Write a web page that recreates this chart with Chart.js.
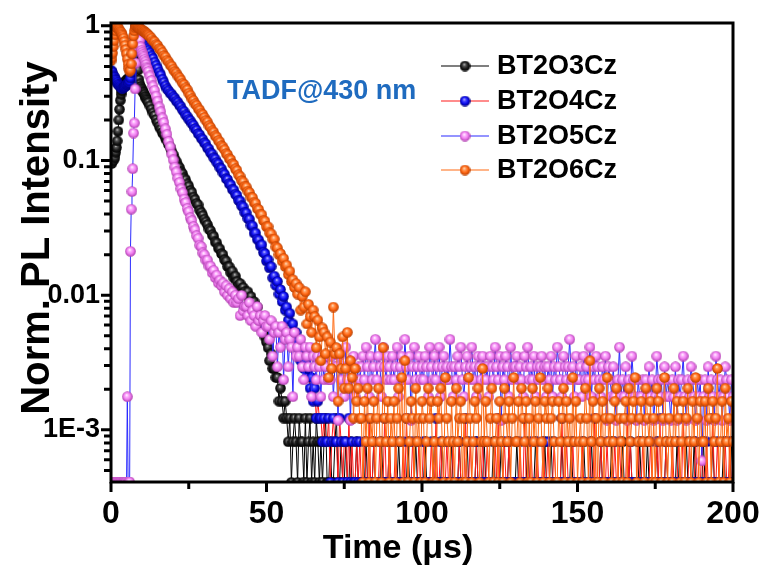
<!DOCTYPE html>
<html><head><meta charset="utf-8">
<script src="https://cdn.jsdelivr.net/npm/chart.js@4.4.0/dist/chart.umd.min.js"></script>
<style>html,body{margin:0;padding:0;background:#fff}canvas{display:block}</style>
</head><body>
<canvas id="c" width="766" height="568"></canvas>
<script>
const SERIES_NAMES = ['BT2O3Cz', 'BT2O4Cz', 'BT2O5Cz', 'BT2O6Cz'];
const X_TICKS = [0, 50, 100, 150, 200];
const X_MINOR_TICKS = [25, 75, 125, 175];
const Y_TICKS = [0.001, 0.01, 0.1, 1];
const Y_TICK_LABELS = ['1E-3', '0.01', '0.1', '1'];
const X_TITLE = 'Time (\u03bcs)';
const Y_TITLE = 'Norm. PL Intensity';
const NOTE = 'TADF@430 nm';
const X_MIN = 0, X_MAX = 200, Y_MIN = 4.1e-4, Y_MAX = 1.05;

// time channels (µs): 0–12 every 0.25, then every 0.5 up to 200
const EARLY_STEP = 0.25, EARLY_END = 12, LATE_STEP = 0.5, T_END = 200;
const TIME = [];
for (let i = 0; i * EARLY_STEP <= EARLY_END; i++) TIME.push(i * EARLY_STEP);
for (let t = EARLY_END + LATE_STEP; t <= T_END + 1e-9; t += LATE_STEP) TIME.push(t);

// photon counts per channel (normalised to each series' peak)
const COUNTS_BT2O3CZ = [
  245,233,257,245,270,257,282,306, 343,404,490,588,686,760,808,858,
  894,919,943,955,968,980,992,1005, 1017,1029,1054,1103,1225,1470,1838,2254,
  2450,2083,1519,1152,980,907,870,845, 821,796,779,760,735,715,698,679, 662,
  625,590,555,530,495,468,440,420,396,382,360,345,322,308,288,272,
  252,242,226,218,203,196,182,176,164,158,147,142,131,126,118,115,105,101,96,90,
  86,82,76,74,69,67,61,60,55,54,50,49,45,44,40,40,36,37,33,34,
  31,29,30,27,28,26,25,26,23,24,21,22,19,20,17,16,15,13,12,11,
  10,8,9,7,7,6,6,4,5,4,3,4,3,2,3,1,2,3,2,1,
  3,2,2,0,3,1,2,3,1,2,1,3,2,1,2,0,2,3,1,1,
  2,0,1,2,3,1,0,2,1,1,2,0,1,2,1,0,1,2,0,1,
  1,0,1,2,0,1,1,0,2,1,0,1,1,2,0,1,0,1,2,1,
  0,1,1,0,2,1,0,1,0,1,2,0,1,1,0,2,1,0,1,0,
  1,2,0,1,0,1,1,2,0,1,0,1,2,1,0,1,1,0,2,1,
  0,1,0,2,1,1,0,1,2,0,1,0,1,1,2,0,1,0,1,2,
  1,0,1,1,0,2,1,0,1,0,2,1,1,0,1,2,0,1,0,1,
  2,1,0,1,1,0,1,2,0,1,1,0,2,1,0,1,0,1,2,0,
  1,0,2,1,0,1,1,0,1,2,0,1,0,1,1,2,0,1,1,0,
  0,1,1,2,0,1,0,1,2,1,0,1,1,0,2,1,0,1,0,1,
  1,2,0,1,1,0,1,0,2,1,1,0,1,2,0,1,1,0,1,2,
  0,1,0,1,2,1,0,1,1,0,2,1,0,1,0,1,2,1,0,1,
  1,0,1,2,0,1,1,0,1,2,1,0,0,1,2,1,0,1,1,0,
  2,0,1,1,0,1,2,1,0,1,0,1,1,2,0,1,0,1,2,1
];
const COUNTS_BT2O4CZ = [
  1150,1125,1100,1055,1030,1005,980,955, 930,905,895,880,870,855,845,845,
  855,860,870,880,895,905,920,930, 955,1005,1100,1275,1520,1790,2030,2230,
  2350,2430,2450,2420,2370,2300,2230,2160, 2090,2010,1950,1890,1830,1770,1715,1665, 1615,
  1550,1465,1405,1318,1250,1180,1110,1058,985,935,878,836,810,778,761,730,
  712,680,664,634,615,582,566,535,522,497,485,462,449,424,412,389,380,360,352,333,
  325,305,298,280,274,257,252,238,232,217,213,199,194,180,177,165,162,150,148,138,
  135,124,123,113,111,101,100,91,90,81,80,71,71,64,63,57,58,51,50,44,
  45,39,40,33,34,29,31,25,27,22,24,19,20,16,18,13,15,12,13,10,
  11,8,10,7,8,6,7,5,6,4,5,3,4,3,3,2,3,2,2,3,
  1,2,3,2,2,1,3,2,1,2,2,0,3,1,2,1,0,2,1,2,
  1,0,2,1,1,3,0,1,2,0,1,1,2,0,1,3,1,0,2,1,
  0,1,2,1,0,1,1,2,0,3,1,0,1,2,1,0,1,2,1,0,
  2,1,0,1,1,2,0,1,3,1,0,2,1,1,0,2,1,0,1,2,
  1,0,1,2,0,1,1,3,0,1,2,1,0,1,2,0,1,1,2,0,
  1,2,0,1,1,0,2,1,3,0,1,1,2,0,1,2,1,0,1,1,
  0,1,2,1,0,3,1,1,0,2,1,0,1,2,1,1,0,2,1,0,
  2,1,0,1,2,1,0,1,1,3,0,1,2,1,0,1,2,0,1,1,
  1,0,2,1,1,0,1,2,0,1,3,1,0,1,2,1,0,1,2,0,
  0,1,1,2,0,1,2,1,0,1,1,3,0,2,1,0,1,1,2,1,
  1,2,0,1,0,1,2,1,1,0,2,1,3,0,1,1,2,0,1,0,
  2,0,1,1,2,0,1,3,1,0,1,2,1,0,1,2,0,1,1,2,
  0,1,2,0,1,1,3,0,1,2,1,0,1,1,2,0,1,2,1,0
];
const COUNTS_BT2O5CZ = [
  0,0,0,0,0,0,0,0, 0,0,0,0,0,0,0,0,
  0,0,0,0,0,3,0,0, 0,36,74,100,148,272,323,578,
  900,1190,1445,1700,1530,1330,1190,1120, 1080,1040,1000,960,920,880,840,815, 780,
  722,668,608,565,512,470,425,392,352,326,292,266,236,215,190,172,
  152,140,126,117,105,98,88,83,75,71,64,61,55,52,47,45,40,39,35,34,
  31,31,28,28,25,26,23,24,21,22,20,21,18,20,17,19,16,18,15,17,
  15,16,12,17,13,14,14,12,15,11,13,12,10,14,11,12,9,11,12,10,
  10,8,11,6,9,10,5,9,7,10,4,8,9,5,8,7,3,9,6,7,
  6,8,5,4,7,6,5,7,3,6,5,4,6,5,3,6,4,5,6,4,
  4,6,3,5,5,2,6,4,5,3,7,4,5,2,5,6,3,4,5,4,
  5,6,4,7,5,3,6,4,5,8,4,6,5,3,7,5,4,6,5,4,
  6,4,5,7,3,5,6,4,8,5,4,6,2,5,7,4,5,6,4,5,
  4,6,5,3,7,5,4,6,4,5,7,3,5,6,4,5,4,8,5,3,
  5,4,6,5,7,4,3,5,6,4,5,7,4,5,3,6,5,4,6,5,
  4,5,3,6,5,4,7,5,4,6,2,5,4,6,5,3,7,4,5,5,
  6,4,5,4,3,6,5,7,4,5,4,6,3,5,4,5,6,4,5,3,
  5,4,6,3,5,4,7,5,4,3,6,5,4,5,8,4,5,3,6,4,
  4,5,3,6,4,5,4,7,3,5,4,6,5,4,3,5,4,6,2,5,
  4,3,5,3,2,4,7,3,4,3,5,2,4,3,6,4,3,2,4,3,
  3,4,2,4,3,5,3,4,2,3,6,4,3,4,2,5,3,4,3,2,
  4,3,5,2,4,3,4,6,3,2,4,3,5,4,3,2,4,3,4,1,
  3,4,2,5,3,4,3,2,6,4,3,4,2,3,5,4,3,2,4,3
];
const COUNTS_BT2O6CZ = [
  1350,1420,1540,1720,1900,2100,2250,2380, 2430,2370,2330,2280,2230,2180,2130,2060,
  1990,1880,1760,1640,1520,1390,1270,1180, 1130,1150,1280,1520,1800,2060,2250,2370,
  2450,2430,2410,2380,2360,2340,2320,2300, 2280,2260,2240,2220,2190,2170,2140,2120, 2090,
  2045,1985,1900,1870,1790,1750,1660,1625,1560,1480,1440,1365,1325,1260,1230,1170,
  1125,1095,1040,1010,970,922,898,850,825,775,748,705,684,648,630,598,580,552,538,512,
  488,474,445,432,408,398,375,366,346,336,316,309,295,277,270,254,249,233,228,213,
  207,192,187,174,170,158,156,145,142,131,130,120,118,108,106,98,97,88,87,79,
  79,71,70,64,64,56,55,49,50,44,46,40,41,35,37,31,32,28,30,25,
  28,19,24,20,26,15,21,17,13,19,17,10,16,12,8,14,13,9,12,6,
  11,7,20,9,10,4,9,7,12,5,7,13,5,8,6,3,7,4,5,3,
  3,1,4,2,5,1,3,2,4,0,3,5,2,1,10,3,2,4,1,3,
  2,4,1,3,5,2,6,1,8,3,0,2,4,3,1,5,2,3,1,4,
  3,1,2,5,3,4,0,2,1,4,3,5,2,1,6,3,2,1,4,2,
  1,5,2,3,4,1,3,0,2,6,3,1,2,4,3,5,1,2,7,2,
  4,2,1,3,5,0,2,3,1,4,2,1,5,3,2,4,1,3,6,2,
  2,4,1,5,3,2,4,1,3,0,5,2,4,1,3,6,2,1,4,3,
  5,1,3,4,2,1,0,4,2,3,5,1,4,2,3,1,6,2,4,1,
  2,3,1,2,5,3,1,8,2,4,1,3,0,5,2,4,1,3,6,2,
  3,1,2,4,5,1,3,2,0,3,4,1,5,2,3,4,6,1,2,3,
  4,2,1,5,3,2,4,0,3,1,5,4,2,1,3,6,2,1,3,2,
  1,5,2,4,3,1,2,4,0,3,5,2,1,4,2,6,3,1,4,2,
  2,4,1,5,3,1,4,2,3,7,0,2,4,1,5,2,3,1,4,2
];
const SERIES_COUNTS = [COUNTS_BT2O3CZ, COUNTS_BT2O4CZ, COUNTS_BT2O5CZ, COUNTS_BT2O6CZ];

// styles
const FONT = "'Liberation Sans', Arial, sans-serif";
const LINE_COLORS = ['#000000', '#ff1a1a', '#2a2aff', '#ff6a13'];
const BALL_COLORS = [
  ['#c8c8c8', '#5a5a5a', '#1a1a1a', '#000000'],
  ['#c8c8ff', '#5050ff', '#0a0af0', '#000070'],
  ['#ffffff', '#ffb8ff', '#ee7cee', '#a838a8'],
  ['#ffe6cc', '#ffa060', '#ff6410', '#b03c00']
];
const DRAW_ORDER = [4, 3, 2, 1];

function makeBall(c) {
  const s = 11, cv = document.createElement('canvas');
  cv.width = s; cv.height = s;
  const g = cv.getContext('2d');
  const grd = g.createRadialGradient(s / 2 - 0.8, s / 2 - 1.6, 0.2, s / 2, s / 2, s / 2);
  grd.addColorStop(0, c[0]); grd.addColorStop(0.22, c[1]);
  grd.addColorStop(0.6, c[2]); grd.addColorStop(1, c[3]);
  g.fillStyle = grd;
  g.beginPath(); g.arc(s / 2, s / 2, s / 2 - 0.2, 0, Math.PI * 2); g.fill();
  return cv;
}
const BALLS = BALL_COLORS.map(makeBall);

function toPoints(counts) {
  const peak = Math.max(...counts);
  return TIME.map((t, i) => ({ x: t, y: counts[i] > 0 ? counts[i] / peak : Y_MIN }));
}

const datasets = SERIES_NAMES.map((name, k) => ({
  label: name,
  data: toPoints(SERIES_COUNTS[k]),
  borderColor: LINE_COLORS[k],
  borderWidth: 1,
  pointStyle: BALLS[k],
  pointRadius: 5,
  tension: 0,
  fill: false,
  order: DRAW_ORDER[k]
}));

const decorPlugin = {
  id: 'decor',
  afterDatasetsDraw(chart) {
    const { ctx, chartArea: a, scales: { x, y } } = chart;
    ctx.save();
    ctx.strokeStyle = '#000';
    ctx.lineWidth = 3;
    ctx.strokeRect(a.left, a.top, a.right - a.left, a.bottom - a.top);
    ctx.lineWidth = 3;
    ctx.beginPath();
    Y_TICKS.forEach(v => { const p = y.getPixelForValue(v); ctx.moveTo(a.left, p); ctx.lineTo(a.left - 10, p); });
    for (let e = -4; e <= 0; e++) for (let m = 2; m <= 9; m++) {
      const v = m * Math.pow(10, e);
      if (v < Y_MIN || v > Y_MAX) continue;
      const p = y.getPixelForValue(v); ctx.moveTo(a.left, p); ctx.lineTo(a.left - 7, p);
    }
    X_TICKS.forEach(v => { const p = x.getPixelForValue(v); ctx.moveTo(p, a.bottom); ctx.lineTo(p, a.bottom + 10); });
    X_MINOR_TICKS.forEach(v => { const p = x.getPixelForValue(v); ctx.moveTo(p, a.bottom); ctx.lineTo(p, a.bottom + 7); });
    ctx.stroke();
    ctx.restore();
  },
  afterDraw(chart) {
    const { ctx } = chart;
    ctx.save();
    ctx.fillStyle = '#000';
    ctx.font = 'bold 34px ' + FONT;
    ctx.textAlign = 'center'; ctx.textBaseline = 'alphabetic';
    ctx.fillText(X_TITLE, 398, 558);
    ctx.save();
    ctx.translate(49, 238); ctx.rotate(-Math.PI / 2);
    ctx.font = 'bold 40px ' + FONT;
    ctx.fillText(Y_TITLE, 0, 0);
    ctx.restore();
    ctx.font = 'bold 27px ' + FONT;
    ctx.fillStyle = '#1f6bbf';
    ctx.textAlign = 'left';
    ctx.fillText(NOTE, 227, 99);
    ctx.font = 'bold 27px ' + FONT;
    ctx.fillStyle = '#000';
    ctx.textBaseline = 'middle';
    const rows = [66, 101, 136, 170];
    chart.data.datasets.forEach((d, k) => {
      const yy = rows[k];
      ctx.strokeStyle = d.borderColor; ctx.lineWidth = 1.2;
      ctx.beginPath(); ctx.moveTo(441, yy); ctx.lineTo(489, yy); ctx.stroke();
      ctx.drawImage(d.pointStyle, 465 - 5.5, yy - 5.5);
      ctx.fillText(d.label, 497, yy + 1);
    });
    const bad = SERIES_COUNTS.map((c, k) => c.length !== TIME.length ? SERIES_NAMES[k] + ':' + c.length : '').filter(Boolean);
    if (bad.length) { ctx.fillStyle = 'red'; ctx.font = '14px ' + FONT; ctx.fillText('LEN ' + TIME.length + ' ' + bad.join(' '), 200, 300); }
    ctx.restore();
  }
};

new Chart(document.getElementById('c'), {
  type: 'line',
  data: { datasets },
  options: {
    responsive: false,
    animation: false,
    events: [],
    layout: { padding: { top: 23, right: 33, left: 0, bottom: 0 } },
    plugins: { legend: { display: false }, tooltip: { enabled: false } },
    scales: {
      x: {
        type: 'linear', min: X_MIN, max: X_MAX,
        afterBuildTicks: s => { s.ticks = X_TICKS.map(v => ({ value: v })); },
        afterFit: s => { s.height = 86; s.paddingLeft = 0; s.paddingRight = 0; },
        grid: { display: false, drawTicks: false },
        border: { display: false },
        ticks: { color: '#000', font: { family: FONT, size: 32, weight: 'bold' }, padding: 13, maxRotation: 0, autoSkip: false }
      },
      y: {
        type: 'logarithmic', min: Y_MIN, max: Y_MAX,
        afterBuildTicks: s => { s.ticks = Y_TICKS.map(v => ({ value: v })); },
        afterFit: s => { s.width = 111; s.paddingTop = 0; s.paddingBottom = 0; },
        grid: { display: false, drawTicks: false },
        border: { display: false },
        ticks: { color: '#000', font: { family: FONT, size: 27, weight: 'bold' }, padding: 11,
                 callback: (v, i) => Y_TICK_LABELS[i] }
      }
    }
  },
  plugins: [decorPlugin]
});
</script>
</body></html>
